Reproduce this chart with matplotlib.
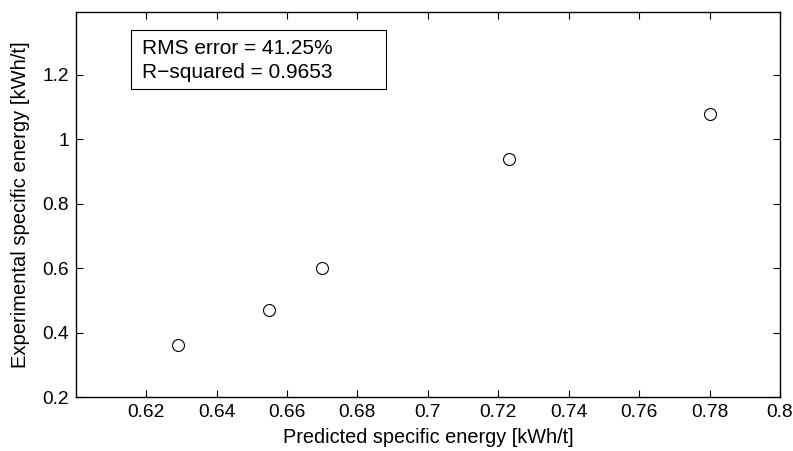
import matplotlib
matplotlib.use("Agg")
import matplotlib.pyplot as plt
from matplotlib.patches import Rectangle

plt.rcParams['font.family'] = ['Liberation Sans', 'DejaVu Sans']

# Predicted vs experimental specific energy
predicted = [0.629, 0.655, 0.670, 0.723, 0.780]
experimental = [0.361, 0.470, 0.600, 0.938, 1.078]
x_ticks = [0.62, 0.64, 0.66, 0.68, 0.70, 0.72, 0.74, 0.76, 0.78, 0.80]
x_tick_labels = ["0.62", "0.64", "0.66", "0.68", "0.7", "0.72", "0.74", "0.76", "0.78", "0.8"]
y_ticks = [0.2, 0.4, 0.6, 0.8, 1.0, 1.2]
y_tick_labels = ["0.2", "0.4", "0.6", "0.8", "1", "1.2"]
stats_lines = ["RMS error = 41.25%", "R\u2212squared = 0.9653"]

fig = plt.figure(figsize=(7.93, 4.51), dpi=100)
ax = fig.add_axes([0.0955, 0.1197, 0.8881, 0.8543])

ax.plot(predicted, experimental, linestyle='none', marker='o', markersize=8.6,
        markerfacecolor='white', markeredgecolor='black', markeredgewidth=0.8)

ax.set_xlim(0.6, 0.8)
ax.set_ylim(0.2, 1.396)
ax.set_xticks(x_ticks)
ax.set_xticklabels(x_tick_labels)
ax.set_yticks(y_ticks)
ax.set_yticklabels(y_tick_labels)

ax.tick_params(direction='in', length=5, width=0.8, top=True, right=True,
               labelsize=13.8, pad=5)
for side in ax.spines.values():
    side.set_linewidth(1.0)

ax.set_xlabel("Predicted specific energy [kWh/t]", fontsize=14.3, labelpad=5)
ax.set_ylabel("Experimental specific energy [kWh/t]", fontsize=14.5, labelpad=9)

# Statistics box
ax.add_patch(Rectangle((0.0785, 0.7994), 0.3621, 0.1531, transform=ax.transAxes,
                       facecolor='white', edgecolor='black', linewidth=0.8, zorder=3))
ax.text(0.0937, 0.9056, stats_lines[0], transform=ax.transAxes, fontsize=15,
        va='center', ha='left', zorder=4)
ax.text(0.0937, 0.8433, stats_lines[1], transform=ax.transAxes, fontsize=15,
        va='center', ha='left', zorder=4)

fig.savefig("out.png", dpi=100)
